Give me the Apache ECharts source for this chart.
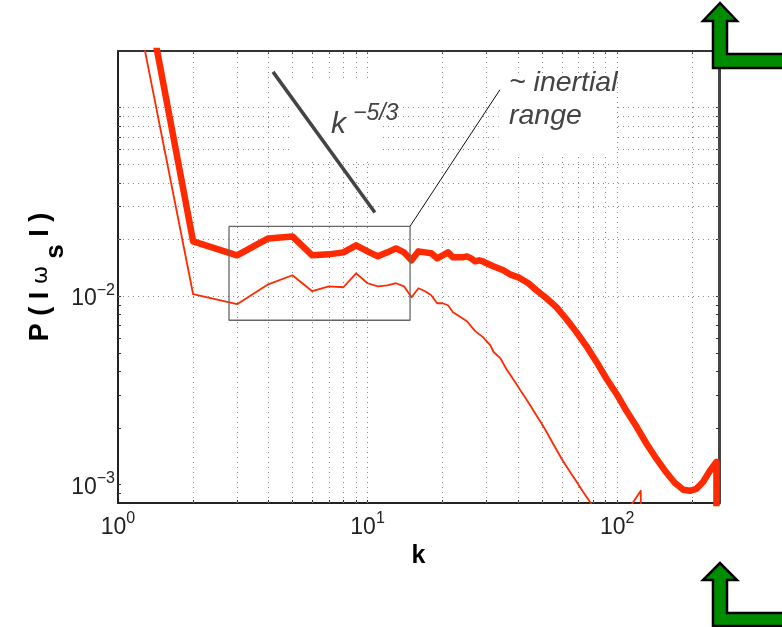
<!DOCTYPE html>
<html>
<head>
<meta charset="utf-8">
<style>html,body{margin:0;padding:0;background:#fff}#chart{width:782px;height:627px}</style>
<script src="https://cdn.jsdelivr.net/npm/echarts@6/dist/echarts.min.js"></script>
</head>
<body>
<div id="chart"></div>
<script>
// thick curve
var thickK = [1, 2, 3, 4, 5, 6, 7, 8, 9, 10, 11, 12, 13, 14, 15, 16, 17, 18, 19, 20, 21, 22, 23, 24, 25, 26, 27, 28, 29, 30, 31.9, 35, 37.2, 40.2, 44.1, 47.5, 52.1, 57.1, 62.7, 68.7, 75.3, 82.8, 90.8, 99.5, 109.1, 119.7, 131.2, 143.9, 157.8, 170.2, 184.1, 195.4, 208, 221.3, 235.5, 250, 250.5];
var thickP = [2.52, 0.01954, 0.01648, 0.02027, 0.02077, 0.01648, 0.01668, 0.01709, 0.01861, 0.0173, 0.01628, 0.01709, 0.01794, 0.01709, 0.01551, 0.0173, 0.01709, 0.01689, 0.01589, 0.01648, 0.01709, 0.01608, 0.01608, 0.01608, 0.01628, 0.01589, 0.01532, 0.01551, 0.01532, 0.01495, 0.01441, 0.01373, 0.01307, 0.0126, 0.01172, 0.01076, 0.00976, 0.00875, 0.00755, 0.00645, 0.00544, 0.00447, 0.00364, 0.00303, 0.00246, 0.00203, 0.00165, 0.00137, 0.001157, 0.001025, 0.000941, 0.000929, 0.000952, 0.001037, 0.001186, 0.001323, 0.00001];
// thin curve
var thinK = [1, 2, 3, 4, 5, 6, 7, 8, 9, 10, 11, 12, 13, 14, 15, 16, 17, 18, 19, 20, 21, 22, 24, 25, 27, 29, 31, 32, 34, 36, 39, 41.4, 44, 47.6, 51.3, 55.4, 60, 64.7, 68.8, 73, 78.3, 84, 114, 124.4, 125];
var thinP = [1.06, 0.01025, 0.00907, 0.01157, 0.01292, 0.01063, 0.01129, 0.01116, 0.01323, 0.01172, 0.01129, 0.01143, 0.01172, 0.01129, 0.00988, 0.01102, 0.01063, 0.01012, 0.00918, 0.00918, 0.00896, 0.00823, 0.00765, 0.00737, 0.00653, 0.00607, 0.00551, 0.00506, 0.0047, 0.00411, 0.00351, 0.0031, 0.00275, 0.00232, 0.00198, 0.00165, 0.00137, 0.001172, 0.001037, 0.000918, 0.000803, 0.000677, 0.00078, 0.000929, 0.00001];

// annotations, in data units
var slopeK = [4.18, 10.7];
var slopeP = [0.155, 0.0278];
var boxK = [2.785, 14.8, 14.8, 2.785, 2.785];
var boxP = [0.0235, 0.0235, 0.00746, 0.00746, 0.0235];
var leaderK = [14.8, 33.9];
var leaderP = [0.0235, 0.1245];

// tick and grid values
var xLabels = [1, 10, 100];
var yLabels = [0.001, 0.01];
var xGrid = [2, 3, 4, 5, 6, 7, 8, 9, 10, 20, 30, 40, 50, 60, 70, 80, 90, 100, 200];
var yGrid = [0.0009, 0.001, 0.002, 0.003, 0.004, 0.005, 0.006, 0.007, 0.008, 0.009, 0.01, 0.02, 0.03, 0.04, 0.05, 0.06, 0.07, 0.08, 0.09, 0.1];

var myChart = echarts.init(document.getElementById('chart'));

function zip(a, b) {
    return a.map(function (v, i) { return [v, b[i]]; });
}

function powerLabel(v) {
    var e = Math.round(Math.log(v) / Math.LN10);
    return '{b|10}{s|' + String(e).replace('-', '\u2212') + '}';
}

var tickRich = {
    b: { fontFamily: 'Liberation Sans', fontSize: 23, color: '#222', verticalAlign: 'bottom' },
    s: { fontFamily: 'Liberation Sans', fontSize: 16, color: '#222', padding: [0, 0, 12, 0] }
};

function axisBase() {
    return {
        type: 'log',
        logBase: 10,
        splitLine: { show: false },
        minorSplitLine: { show: false },
        axisLine: { show: true, onZero: false, lineStyle: { color: '#222', width: 2 } },
        axisTick: { show: true, inside: true, length: 3, lineStyle: { color: '#333', width: 1 } },
        minorTick: { show: false }
    };
}

var xMain = axisBase();
xMain.min = 1;
xMain.max = 256;
xMain.name = 'k';
xMain.nameLocation = 'middle';
xMain.nameGap = 29;
xMain.nameTextStyle = { fontFamily: 'Liberation Sans', fontWeight: 'bold', fontSize: 25, color: '#000' };
xMain.axisTick.customValues = xGrid;
xMain.axisLabel = { customValues: xLabels, formatter: powerLabel, rich: tickRich, margin: 8 };

var xTop = axisBase();
xTop.min = 1;
xTop.max = 256;
xTop.position = 'top';
xTop.axisLine.lineStyle = { color: '#333', width: 2 };
xTop.axisTick.customValues = xGrid;
xTop.axisLabel = { show: false };

var yMain = axisBase();
yMain.min = 0.0008;
yMain.max = 0.2;
yMain.name = '{a|P ( I }{w|\u03c9}{s| s}{a| I )}';
yMain.nameLocation = 'middle';
yMain.nameRotate = 90;
yMain.nameGap = 49;
yMain.nameMoveOverlap = false;
yMain.nameTextStyle = {
    rich: {
        a: { fontFamily: 'Liberation Sans', fontWeight: 'bold', fontSize: 27, color: '#000' },
        w: { fontFamily: 'DejaVu Sans', fontSize: 22, color: '#000' },
        s: { fontFamily: 'Liberation Sans', fontWeight: 'bold', fontSize: 26, color: '#000', padding: [30, 0, 0, 0] }
    }
};
yMain.axisTick.customValues = yGrid;
yMain.axisLabel = { customValues: yLabels, formatter: powerLabel, rich: tickRich, margin: 3 };

var yRight = axisBase();
yRight.min = 0.0008;
yRight.max = 0.2;
yRight.position = 'right';
yRight.axisLine.lineStyle = { color: '#444', width: 3 };
yRight.axisTick.customValues = yGrid;
yRight.axisLabel = { show: false };

var gridDots = { color: '#888', type: [1, 4], width: 1 };

function arrow(tipY, headY, innerY, bottomY) {
    return {
        type: 'polygon',
        z: 200,
        shape: {
            points: [[720, tipY], [703, headY], [713, headY], [713, bottomY], [784, bottomY], [784, innerY], [727, innerY], [727, headY], [737, headY]]
        },
        style: { fill: '#008c00', stroke: '#000', lineWidth: 2.5 }
    };
}

function note(text, x, y, size) {
    return {
        type: 'text',
        z: 150,
        x: x,
        y: y,
        style: { text: text, fill: '#444', fontFamily: 'Liberation Sans', fontStyle: 'italic', fontSize: size }
    };
}

var option = {
    animation: false,
    backgroundColor: '#fff',
    grid: { left: 118, right: 63, top: 51, bottom: 124, containLabel: false },
    xAxis: [xMain, xTop],
    yAxis: [yMain, yRight],
    graphic: [
        note('k', 331, 110, 30),
        note('\u22125/3', 353, 102, 23),
        note('~ inertial', 509, 69, 28.5),
        note('range', 509, 102, 28.5),
        arrow(3, 21, 54, 68),
        arrow(563, 580, 613, 626)
    ],
    series: [{
        // dotted grid, drawn through the axes
        name: 'grid',
        type: 'line',
        z: 1,
        silent: true,
        symbol: 'none',
        data: [],
        markLine: {
            silent: true,
            z: 1,
            symbol: 'none',
            label: { show: false },
            lineStyle: gridDots,
            data: xGrid.map(function (v) { return { xAxis: v }; })
                .concat(yGrid.map(function (v) { return { yAxis: v }; }))
        }
    }, {
        // white boxes behind the two text notes
        name: 'masks',
        type: 'line',
        z: 2,
        silent: true,
        symbol: 'none',
        data: [],
        markArea: {
            silent: true,
            z: 2,
            itemStyle: { color: '#fff' },
            data: [
                [{ coord: [4.85, 0.137] }, { coord: [11.3, 0.0532] }],
                [{ coord: [33.5, 0.15] }, { coord: [98, 0.0563] }]
            ]
        }
    }, {
        name: 'thin',
        type: 'line',
        z: 3,
        symbol: 'none',
        data: zip(thinK, thinP),
        lineStyle: { color: '#ff2a00', width: 1.8, join: 'round' }
    }, {
        name: 'thick',
        type: 'line',
        z: 3,
        symbol: 'none',
        data: zip(thickK, thickP),
        lineStyle: { color: '#ff2a00', width: 6.5, join: 'round' }
    }, {
        name: 'box',
        type: 'line',
        z: 4,
        symbol: 'none',
        data: zip(boxK, boxP),
        lineStyle: { color: '#666', width: 1.3 }
    }, {
        name: 'leader',
        type: 'line',
        z: 4,
        symbol: 'none',
        data: zip(leaderK, leaderP),
        lineStyle: { color: '#111', width: 1 }
    }, {
        name: 'slope',
        type: 'line',
        z: 4,
        symbol: 'none',
        data: zip(slopeK, slopeP),
        lineStyle: { color: '#444', width: 3.5 }
    }]
};

myChart.setOption(option);
</script>
</body>
</html>
